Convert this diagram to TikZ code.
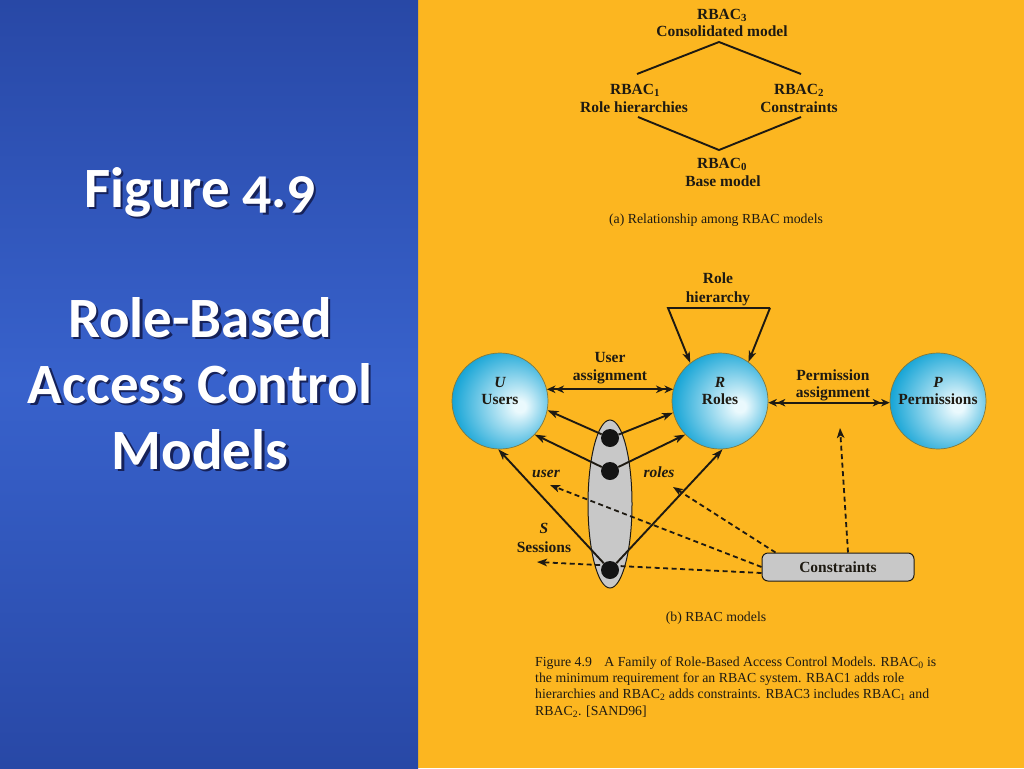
\documentclass[tikz,border=0pt]{standalone}
\usepackage{fontspec}
\setmainfont{Liberation Serif}
\newfontfamily\titlefont[Numbers=OldStyle]{Carlito}
\usetikzlibrary{arrows.meta,shapes.geometric,calc}
\definecolor{orangebg}{RGB}{252,182,32}
\definecolor{bluetop}{RGB}{40,72,166}
\definecolor{bluemid}{RGB}{56,98,204}
\definecolor{ink}{RGB}{30,26,18}
\definecolor{ballin}{RGB}{234,249,253}
\definecolor{ballout}{RGB}{10,160,212}
\definecolor{ballrim}{RGB}{130,120,60}
\definecolor{boxgray}{RGB}{200,200,200}
\definecolor{shadowblue}{RGB}{22,34,90}
\pgfdeclareradialshading{rbacball}{\pgfpoint{11bp}{-3bp}}{color(0bp)=(ballin); color(3bp)=(ballin); color(31bp)=(ballout); color(50bp)=(ballout)}
\newcommand{\shadowtext}[1]{\rlap{\hspace{2.5pt}\raisebox{-2.5pt}{\textcolor{shadowblue}{#1}}}#1}
\begin{document}
\begin{tikzpicture}[x=1pt,y=-1pt,
  ttl/.style={font=\titlefont\bfseries\fontsize{57}{62}\selectfont, text=white, inner sep=0pt, anchor=base},
  lbl/.style={font=\fontsize{15.5}{18}\selectfont\bfseries, text=ink, inner sep=0pt, anchor=base},
  lbli/.style={lbl, font=\fontsize{15.5}{18}\selectfont\bfseries\itshape},
  captxt/.style={font=\fontsize{13.8}{16.4}\selectfont, text=ink, inner sep=0pt, anchor=base},
  plainline/.style={draw=ink, line width=1.9pt},
  ball/.style={circle, minimum size=96pt, inner sep=0pt, draw=ballrim, line width=0.7pt, shading=rbacball},
  sdot/.style={circle, fill=black!92, minimum size=18pt, inner sep=0pt},
  arr/.style={draw=ink, line width=1.9pt, -{Stealth[length=11pt,width=7.5pt,inset=3pt]}},
  darr/.style={draw=ink, line width=1.9pt, {Stealth[length=8.5pt,width=7.5pt,inset=2.5pt] Stealth[length=8.5pt,width=7.5pt,inset=2.5pt]}-{Stealth[length=8.5pt,width=7.5pt,inset=2.5pt] Stealth[length=8.5pt,width=7.5pt,inset=2.5pt]}},
  dline/.style={draw=ink, line width=1.8pt, dash pattern=on 5pt off 3.5pt, -{Stealth[length=10pt,width=7.5pt,inset=2.5pt]}}
]
\useasboundingbox (0,0) rectangle (1024,768);
\fill[orangebg] (0,0) rectangle (1024,768);
\shade[top color=bluetop, bottom color=bluetop, middle color=bluemid] (0,0) rectangle (418,768);

% title
\node[ttl] (t1) at (200,207) {\shadowtext{Figure 4.9}};
\node[ttl] (t2) at (200,337) {\shadowtext{Role-Based}};
\node[ttl] (t3) at (200,403) {\shadowtext{Access Control}};
\node[ttl] (t4) at (200,469) {\shadowtext{Models}};

% (a)
\node[lbl] (r3a) at (722,19.5) {RBAC\textsubscript{3}};
\node[lbl] (r3b) at (722,37) {Consolidated model};
\node[lbl] (r1a) at (635,94) {RBAC\textsubscript{1}};
\node[lbl] (r1b) at (634,112) {Role hierarchies};
\node[lbl] (r2a) at (799,94) {RBAC\textsubscript{2}};
\node[lbl] (r2b) at (799,112) {Constraints};
\node[lbl] (r0a) at (722,168) {RBAC\textsubscript{0}};
\node[lbl] (r0b) at (723,186) {Base model};
\node[captxt] (capa) at (716,223) {(a) Relationship among RBAC models};
\coordinate (d3) at (719,42);
\coordinate (d1t) at (637,74);
\coordinate (d2t) at (801,74);
\coordinate (d1b) at (638,117);
\coordinate (d2b) at (801,117);
\coordinate (d0) at (719,150);
\draw[plainline] (d1t) -- (d3) -- (d2t);
\draw[plainline] (d1b) -- (d0) -- (d2b);

% (b) circles
\node[ball] (U) at (500,401) {};
\node[ball] (R) at (720,401) {};
\node[ball] (P) at (938,401) {};
\node[lbli] (Ul1) at (500,387) {U};
\node[lbl] (Ul2) at (500,404) {Users};
\node[lbli] (Rl1) at (720,387) {R};
\node[lbl] (Rl2) at (720,404) {Roles};
\node[lbli] (Pl1) at (938,387) {P};
\node[lbl] (Pl2) at (938,404) {Permissions};

\node[lbl] (ua1) at (610,362) {User};
\node[lbl] (ua2) at (610,380) {assignment};
\node[lbl] (pa1) at (833,380) {Permission};
\node[lbl] (pa2) at (833,397) {assignment};
\node[lbl] (rh1) at (718,283) {Role};
\node[lbl] (rh2) at (718,302) {hierarchy};

\draw[darr] (U.14) -- (R.166);
\draw[darr] (R.-2) -- (P.182);

\coordinate (hl) at (668,308);
\coordinate (hr) at (770,308);
\draw[arr] (hr) -- (hl) -- (R.128);
\draw[arr] (hr) -- (R.54);

% sessions ellipse
\node[ellipse, minimum width=44pt, minimum height=168pt, fill=boxgray, draw=ink, line width=1pt, inner sep=0pt] (S) at (610,504) {};

% constraints
\node[draw=ink, fill=boxgray, rounded corners=6pt, minimum width=152pt, minimum height=28pt, line width=1pt, inner sep=0pt, font=\fontsize{15.5}{18}\selectfont\bfseries, text=ink] (C) at (838,567) {Constraints};

\coordinate (ue) at (550,485);
\coordinate (re) at (673,487);
\coordinate (se) at (537,562);
\coordinate (pe) at (840,428);
\draw[dline] (C.west) -- (ue);
\draw[dline] ($(C.north west)+(14,0)$) -- (re);
\draw[dline] ($(C.west)+(0,6)$) -- (se);
\draw[dline] ($(C.north)+(10,0)$) -- (pe);

% dots
\node[sdot] (s1) at (610,438) {};
\node[sdot] (s2) at (610,471) {};
\node[sdot] (s3) at (610,570) {};
\draw[arr] (s1) -- (U.-11);
\draw[arr] (s1) -- (R.194);
\draw[arr] (s2) -- (U.-44);
\draw[arr] (s2) -- (R.224);
\draw[arr] (s3) -- (U.-92);
\draw[arr] (s3) -- (R.-87);

\node[lbli] (ul) at (546,477) {user};
\node[lbli] (rl) at (659,477) {roles};
\node[lbli] (Sl1) at (544,533) {S};
\node[lbl] (Sl2) at (544,552) {Sessions};

% captions
\node[captxt] (capb) at (716,621) {(b) RBAC models};
\node[captxt, anchor=base west] (c1) at (535,666) {Figure 4.9\hspace{0.9em}A Family of Role-Based Access Control Models. RBAC\textsubscript{0} is};
\node[captxt, anchor=base west] (c2) at (535,682) {the minimum requirement for an RBAC system. RBAC1 adds role};
\node[captxt, anchor=base west] (c3) at (535,698) {hierarchies and RBAC\textsubscript{2} adds constraints. RBAC3 includes RBAC\textsubscript{1} and};
\node[captxt, anchor=base west] (c4) at (535,715) {RBAC\textsubscript{2}. [SAND96]};
\end{tikzpicture}
\end{document}
